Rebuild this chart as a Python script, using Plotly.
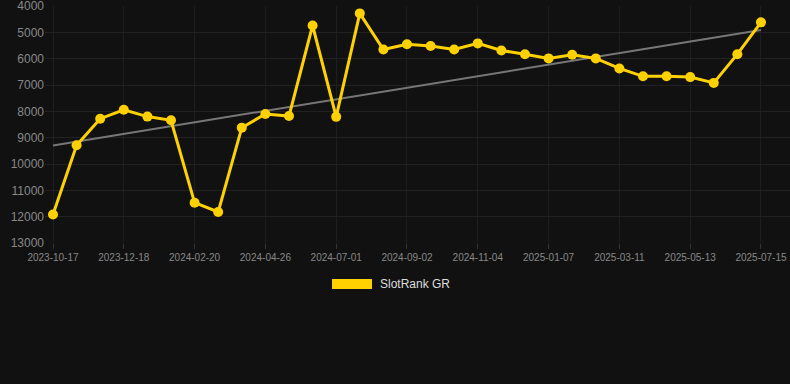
import numpy as np
import plotly.graph_objects as go

dates = [
    "2023-10-17", "2023-11-07", "2023-11-27", "2023-12-18", "2024-01-08", "2024-01-29",
    "2024-02-20", "2024-03-12", "2024-04-04", "2024-04-26", "2024-05-18", "2024-06-09",
    "2024-07-01", "2024-07-22", "2024-08-12", "2024-09-02", "2024-09-23", "2024-10-14",
    "2024-11-04", "2024-11-25", "2024-12-16", "2025-01-07", "2025-01-28", "2025-02-18",
    "2025-03-11", "2025-04-01", "2025-04-22", "2025-05-13", "2025-06-03", "2025-06-24",
    "2025-07-15",
]
ranks = [
    11920, 9290, 8280, 7940, 8200, 8340,
    11470, 11820, 8620, 8100, 8180, 4740,
    8210, 4280, 5650, 5450, 5520, 5650,
    5420, 5690, 5830, 5990, 5850, 5990,
    6370, 6670, 6670, 6700, 6920, 5830,
    4620,
]
tick_dates = dates[::3]
y_ticks = [4000, 5000, 6000, 7000, 8000, 9000, 10000, 11000, 12000, 13000]
series_name = "SlotRank GR"

# linear trend through the series
idx = np.arange(len(ranks))
slope, intercept = np.polyfit(idx, ranks, 1)
trend = [intercept, intercept + slope * (len(ranks) - 1)]
trend_x = [dates[0], dates[-1]]

YELLOW = "#FFD100"
BG = "#111111"

fig = go.Figure()
fig.add_trace(go.Scatter(
    x=trend_x, y=trend, mode="lines",
    line=dict(color="#777777", width=2),
    showlegend=False, hoverinfo="skip",
))
fig.add_trace(go.Scatter(
    x=dates, y=ranks, mode="lines+markers", name=series_name,
    line=dict(color=YELLOW, width=3),
    marker=dict(color=YELLOW, size=10),
    cliponaxis=False, showlegend=False,
))

fig.update_layout(
    width=790, height=384,
    margin=dict(l=45, r=0, t=6, b=141),
    paper_bgcolor=BG, plot_bgcolor=BG,
    font=dict(family="Liberation Sans, Arial, sans-serif", color="#888888"),
    showlegend=False,
    xaxis=dict(
        type="category", categoryorder="array", categoryarray=dates,
        range=[-0.339, 31.23],
        tickmode="array", tickvals=tick_dates, ticktext=tick_dates,
        tickfont=dict(size=10, color="#888888"),
        showgrid=True, gridcolor="#1e1e1e", gridwidth=1,
        ticks="outside", ticklen=5, tickcolor="#333333",
        showline=False, zeroline=False,
        ticklabeloverflow="allow",
    ),
    yaxis=dict(
        range=[13000.5, 3999.5],
        tickmode="array", tickvals=y_ticks, ticktext=[str(v) for v in y_ticks],
        tickfont=dict(size=12, color="#888888"),
        showgrid=True, gridcolor="#222222", gridwidth=1,
        zeroline=False, showline=False, ticks="",
        ticklabeloverflow="allow",
    ),
)

# legend drawn as swatch + label
fig.add_shape(type="rect", xref="paper", yref="paper",
              x0=(332 - 45) / 745, x1=(372 - 45) / 745,
              y0=(243 - 289) / 237, y1=(243 - 279) / 237,
              fillcolor=YELLOW, line=dict(width=0))
fig.add_annotation(xref="paper", yref="paper",
                   x=(378 - 45) / 745, y=(243 - 284) / 237,
                   xanchor="left", yanchor="middle", showarrow=False,
                   text=series_name, font=dict(size=12, color="#dddddd"))

fig.write_html(
    "out.html",
    config={"displayModeBar": False},
    post_script="document.body.style.margin='0';document.body.style.background='#111111';",
)
